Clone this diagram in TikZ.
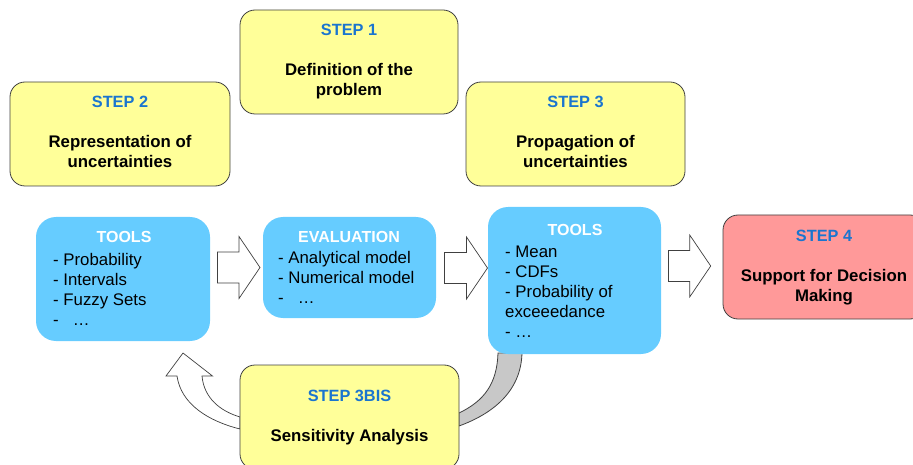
\documentclass[tikz,border=0pt]{standalone}
\usepackage{fontspec}
\setmainfont{Liberation Sans}
\definecolor{boxyellow}{HTML}{FFFF99}
\definecolor{boxblue}{HTML}{66CCFF}
\definecolor{boxred}{HTML}{FF9999}
\definecolor{steplabel}{HTML}{1A75CF}
\definecolor{edgegray}{HTML}{404040}
\definecolor{bandgray}{HTML}{C8C8C8}
\newcommand\stepname[1]{{\fontsize{16.3}{20}\selectfont\color{steplabel}#1}}
% block arrow: tail x, tip x, middle y
\newcommand\fatarrow[3]{%
  \draw[arrowline] (#1,{#3-15.5}) -- ({#2-21},{#3-15.5}) -- ({#2-21},{#3-31})
    -- (#2,#3) -- ({#2-21},{#3+31}) -- ({#2-21},{#3+15.5}) -- (#1,{#3+15.5}) -- cycle;}
\begin{document}
\begin{tikzpicture}[x=1pt,y=-1pt,
  basefont/.style={font=\fontsize{16.8}{20}\selectfont},
  stepbox/.style={draw=edgegray, line width=0.8pt, rounded corners=15pt,
    fill=boxyellow, align=center, inner sep=0pt,
    font=\fontsize{16.8}{20}\selectfont\bfseries},
  toolbox/.style={fill=boxblue, rounded corners=20pt, inner sep=0pt},
  head/.style={font=\fontsize{16}{20}\selectfont\bfseries, text=white,
    anchor=base, inner sep=0pt},
  items/.style={basefont, align=left, anchor=north west, inner sep=0pt},
  arrowline/.style={draw=edgegray, fill=white, line width=0.7pt, line join=miter},
  bandline/.style={draw=edgegray, fill=bandgray, line width=0.8pt}
]
\useasboundingbox (0,0) rectangle (913,465);
\clip (0,0) rectangle (913,465);

% step boxes on top
\node[stepbox, minimum width=218pt, minimum height=104pt] (s1) at (349,62)
  {\strut\stepname{STEP 1}\\[20pt]Definition of the\\problem\strut};
\node[stepbox, minimum width=220pt, minimum height=104pt] (s2) at (120,134)
  {\strut\stepname{STEP 2}\\[20pt]Representation of\\uncertainties\strut};
\node[stepbox, minimum width=219pt, minimum height=104pt] (s3) at (575.5,134)
  {\strut\stepname{STEP 3}\\[20pt]Propagation of\\uncertainties\strut};

% feedback arrow from sensitivity analysis back to the tools
\draw[arrowline] (183,353) -- (212.5,376) -- (202,376)
  .. controls (204,398) and (220,411) .. (240,417)
  -- (240,429)
  .. controls (208,421) and (181,404) .. (177,376)
  -- (166,376) -- cycle;

% band joining the output tools to the sensitivity analysis
\draw[bandline] (498,353) -- (522,353)
  .. controls (521,392) and (492,414) .. (459,426)
  -- (459,413)
  .. controls (484,401) and (497,384) .. (498,353) -- cycle;

% blue tool boxes
\node[toolbox, minimum width=174pt, minimum height=124pt] (t1) at (123,279) {};
\node[head] (t1h) at (124,243) {TOOLS};
\node[items] (t1i) at (53,251) {\strut- Probability\\- Intervals\\- Fuzzy Sets\\-\hspace{14pt}…};

\node[toolbox, minimum width=173pt, minimum height=101pt] (ev) at (349.5,267.5) {};
\node[head] (evh) at (349,243) {EVALUATION};
\node[items] (evi) at (278,249) {\strut- Analytical model\\- Numerical model\\-\hspace{14pt}…};

\node[toolbox, minimum width=173pt, minimum height=147pt] (t2) at (574.5,280.5) {};
\node[head] (t2h) at (575,236) {TOOLS};
\node[items] (t2i) at (505,243) {\strut- Mean\\- CDFs\\- Probability of\\exceeedance\\- …};

% final step
\node[stepbox, fill=boxred, minimum width=202pt, minimum height=104pt] (s4) at (824,267)
  {\strut\stepname{STEP 4}\\[20pt]Support for Decision\\Making\strut};

% sensitivity analysis
\node[stepbox, minimum width=219pt, minimum height=104pt] (s3b) at (349.5,417)
  {\strut\stepname{STEP 3BIS}\\[20pt]Sensitivity Analysis\strut};

% block arrows between the stages
\fatarrow{217.5}{260}{267.5}
\fatarrow{444.5}{487.5}{268}
\fatarrow{668.5}{710.7}{266}
\end{tikzpicture}
\end{document}
